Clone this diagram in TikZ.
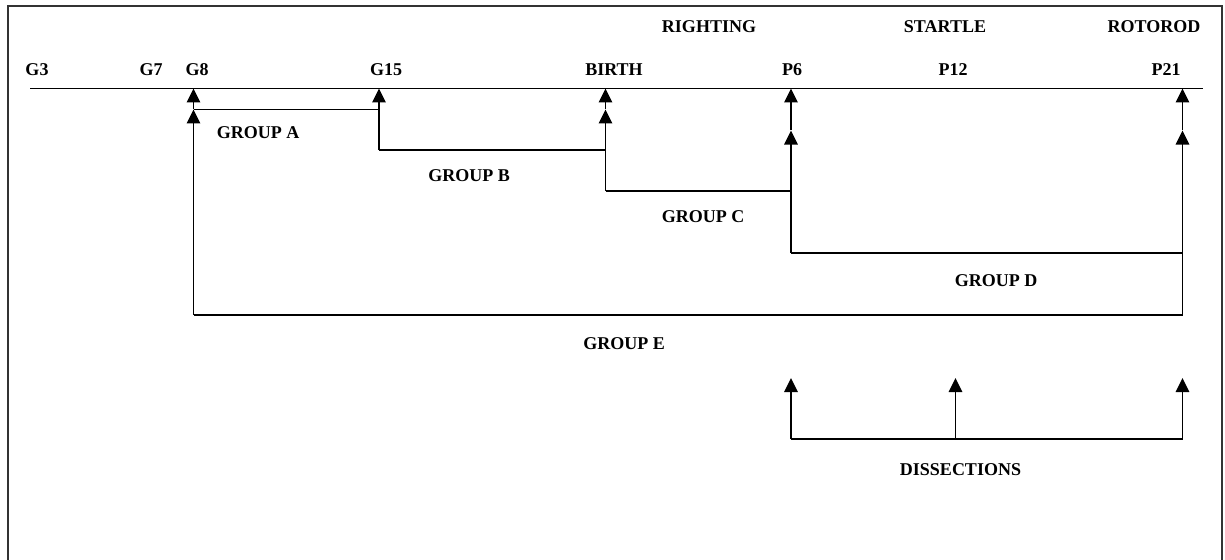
\documentclass[tikz,border=0pt]{standalone}
\usepackage{fontspec}
\setmainfont{Liberation Serif}
\usetikzlibrary{arrows.meta}
\begin{document}
\begin{tikzpicture}[x=0.75pt,y=-0.75pt,
  lbl/.style={font=\bfseries\fontsize{13.5}{16}\selectfont,inner sep=0pt,anchor=base},
  ln/.style={line width=1.3pt,black},
  arr/.style={ln,-{Triangle[width=10pt,length=10.5pt]}},
  frame/.style={line width=1.7pt,black!80}]
\useasboundingbox (0,0) rectangle (1225,560);

% frame (open at the bottom)
\draw[frame] (8,560) -- (8,6) -- (1222,6) -- (1222,560);

% time points on the axis
\coordinate (a0) at (30,88.5);
\coordinate (a1) at (1203,88.5);
\coordinate (g8) at (193.5,88.5);
\coordinate (g15) at (379,88.5);
\coordinate (birth) at (605.5,88.5);
\coordinate (p6) at (791,88.5);
\coordinate (p21) at (1182.5,88.5);

% labels
\node[lbl] (tR) at (709,33) {RIGHTING};
\node[lbl] (tS) at (945,33) {STARTLE};
\node[lbl] (tO) at (1154,33) {ROTOROD};
\node[lbl] (lG3) at (37,76) {G3};
\node[lbl] (lG7) at (151,76) {G7};
\node[lbl] (lG8) at (197,76) {G8};
\node[lbl] (lG15) at (386,76) {G15};
\node[lbl] (lB) at (614,76) {BIRTH};
\node[lbl] (lP6) at (792,76) {P6};
\node[lbl] (lP12) at (953,76) {P12};
\node[lbl] (lP21) at (1166,76) {P21};

\node[lbl] (gA) at (258,138) {GROUP A};
\node[lbl] (gB) at (469,181) {GROUP B};
\node[lbl] (gC) at (703,222) {GROUP C};
\node[lbl] (gD) at (996,286) {GROUP D};
\node[lbl] (gE) at (624,349) {GROUP E};
\node[lbl] (dis) at (960.5,475) {DISSECTIONS};

% axis
\draw[ln] (a0) -- (a1);

% junction points of the group brackets
\coordinate (aL) at (193.5,109.5);
\coordinate (aR) at (379,109.5);
\coordinate (bL) at (379,150);
\coordinate (bR) at (605.5,150);
\coordinate (bM) at (605.5,109.5);
\coordinate (cL) at (605.5,191);
\coordinate (cR) at (791,191);
\coordinate (pM) at (791,130.5);
\coordinate (dL) at (791,253);
\coordinate (dR) at (1182.5,253);
\coordinate (qM) at (1182.5,130.5);
\coordinate (eL) at (193.5,315);
\coordinate (eR) at (1182.5,315);

% group A
\draw[ln] (aL) -- (aR);
% group B
\draw[ln] (bL) -- (bR);
% group C
\draw[ln] (cL) -- (cR);
% group D
\draw[ln] (dL) -- (dR);
% group E
\draw[ln] (eL) -- (eR);

% vertical arrows up to the axis
\draw[arr] (eL) -- (aL);
\draw[arr] (aL) -- (g8);
\draw[arr] (bL) -- (g15);
\draw[arr] (cL) -- (bM);
\draw[arr] (bM) -- (birth);
\draw[arr] (dL) -- (pM);
\draw[arr] (pM) -- (p6);
\draw[arr] (eR) -- (qM);
\draw[arr] (qM) -- (p21);

% dissections
\coordinate (d1) at (791,439);
\coordinate (d2) at (955.5,439);
\coordinate (d3) at (1182.5,439);
\coordinate (t1) at (791,378);
\coordinate (t2) at (955.5,378);
\coordinate (t3) at (1182.5,378);
\draw[ln] (d1) -- (d3);
\draw[arr] (d1) -- (t1);
\draw[arr] (d2) -- (t2);
\draw[arr] (d3) -- (t3);
\end{tikzpicture}
\end{document}
